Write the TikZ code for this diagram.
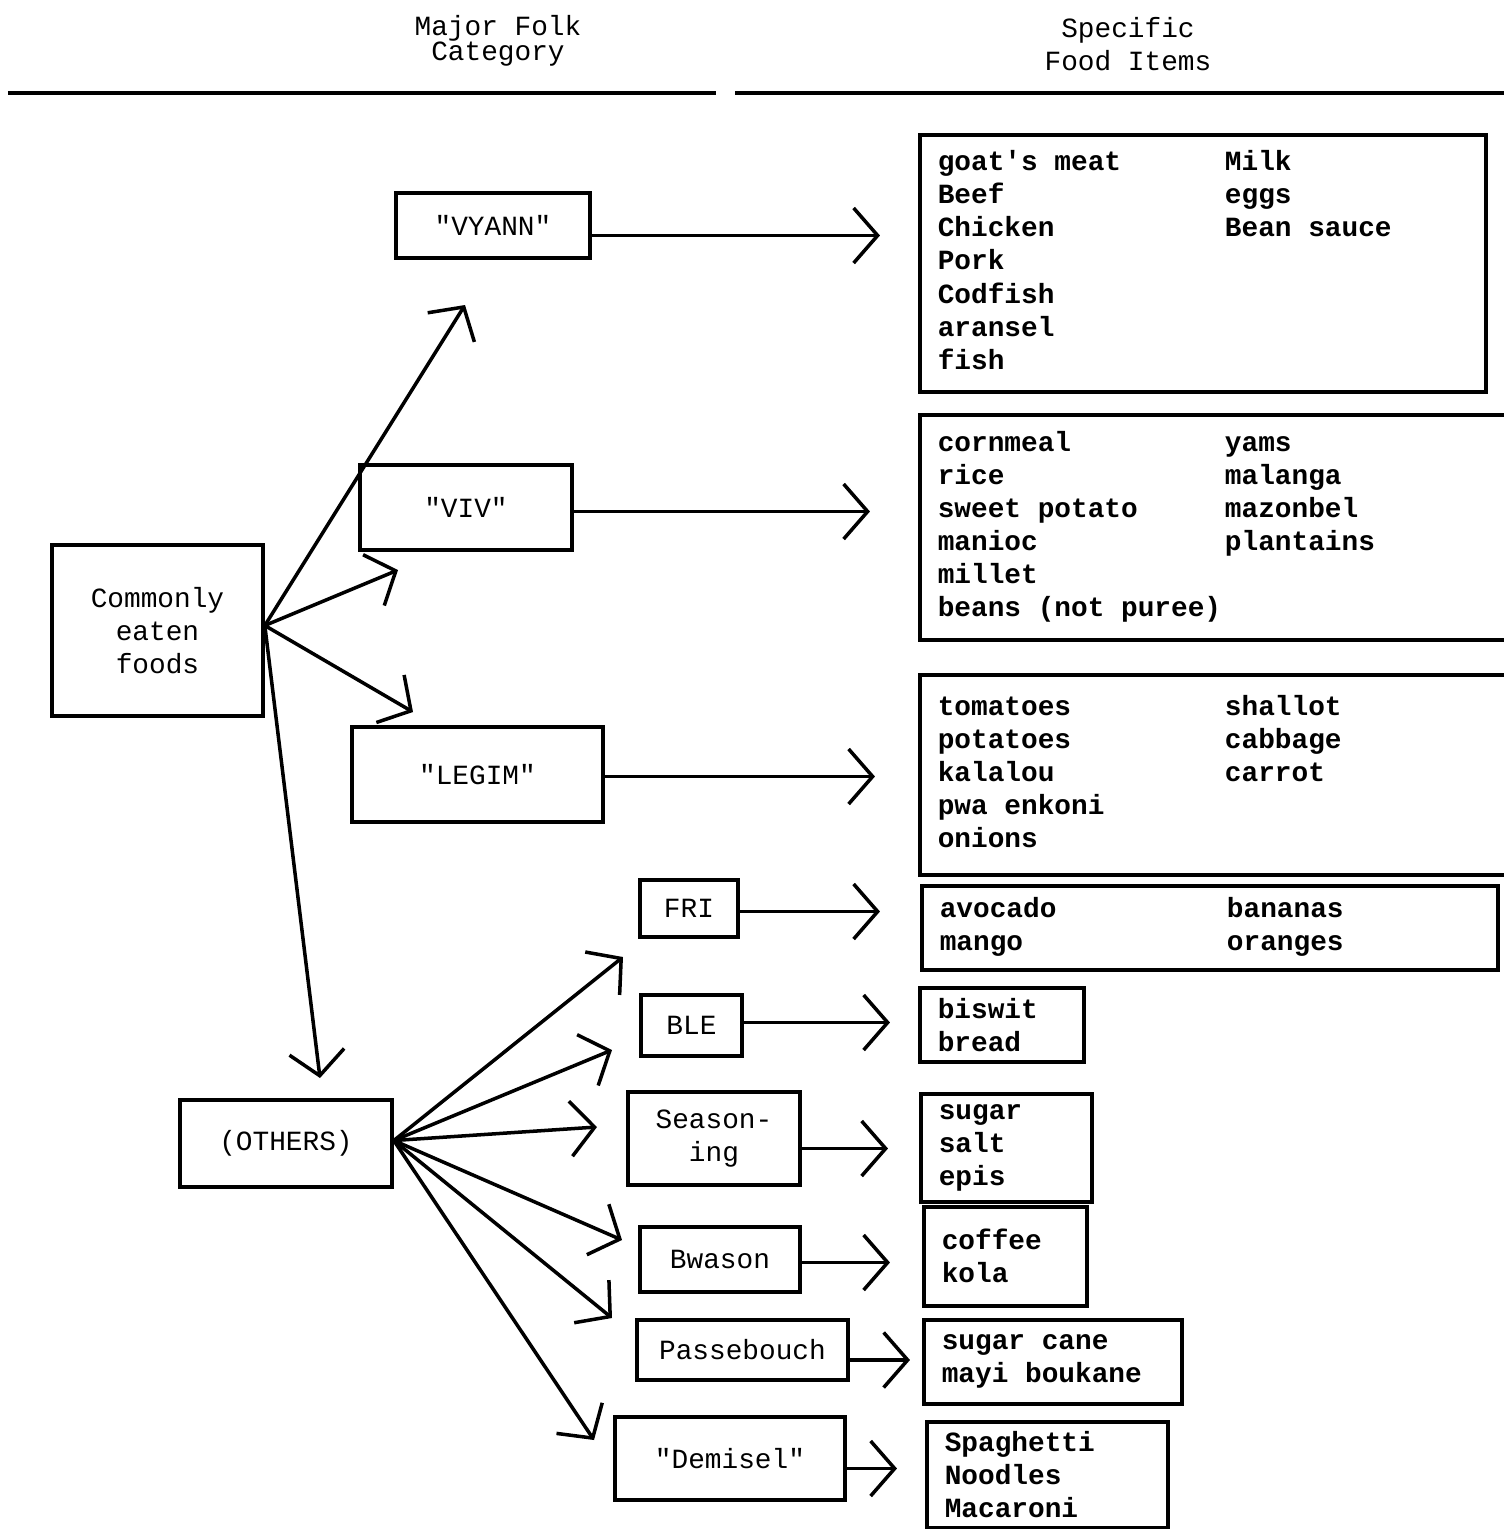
\documentclass[tikz,border=0pt]{standalone}
\usepackage{fontspec}
\setmonofont{Liberation Mono}
\usetikzlibrary{arrows.meta}
\setlength{\parindent}{0pt}

\newcommand{\typew}{\ttfamily\fontsize{7.9}{9.4}\selectfont}
\newcommand{\itemfont}{\ttfamily\bfseries\fontsize{7.9}{9.4}\selectfont}

\tikzset{
  cat/.style={draw, line width=1pt, font=\typew, align=center, inner sep=0pt},
  items/.style={draw, line width=1pt, font=\itemfont, anchor=north west, inner xsep=0.18cm, inner ysep=0pt,
    execute at begin node={\spaceskip=0.6em\relax}},
  arr/.style={line width=1pt, -{Straight Barb[length=0.24cm, width=0.55cm, line width=1pt]}},
}

\begin{document}
\begin{tikzpicture}[x=0.01cm, y=-0.01cm]
  \useasboundingbox (0,0) rectangle (1504,1529);
  \clip (0,0) rectangle (1504,1529);

  % column heads
  \node[font=\typew, align=center] (headcat) at (498,41) {Major Folk\\[-2.3pt]Category};
  \node[font=\typew, align=center] (headitems) at (1128,44) {Specific\\Food Items};
  \draw[line width=1pt] (8,93) -- (716,93);
  \draw[line width=1pt] (735,93) -- (1504,93);

  % folk categories
  \node[cat, minimum width=2.11cm, minimum height=1.71cm] (common) at (157.5,630.5) {Commonly\\eaten\\foods};
  \node[cat, minimum width=1.94cm, minimum height=0.65cm] (vyann) at (493,225.5) {"VYANN"};
  \node[cat, minimum width=2.12cm, minimum height=0.85cm] (viv) at (466,507.5) {"VIV"};
  \node[cat, minimum width=2.51cm, minimum height=0.95cm] (legim) at (477.5,774.5) {"LEGIM"};
  \node[cat, minimum width=2.12cm, minimum height=0.87cm] (others) at (286,1143.5) {(OTHERS)};
  \node[cat, minimum width=0.98cm, minimum height=0.57cm] (fri) at (689,908.5) {FRI};
  \node[cat, minimum width=1.01cm, minimum height=0.61cm] (ble) at (691.5,1025.5) {BLE};
  \node[cat, minimum width=1.72cm, minimum height=0.93cm] (season) at (714,1138.5) {Season-\\ing};
  \node[cat, minimum width=1.60cm, minimum height=0.65cm] (bwason) at (720,1259.5) {Bwason};
  \node[cat, minimum width=2.11cm, minimum height=0.60cm] (passe) at (742.5,1350) {Passebouch};
  \node[cat, minimum width=2.30cm, minimum height=0.83cm] (demisel) at (730,1458.5) {"Demisel"};

  % food items
  \node[items, text width=5.30cm, minimum height=2.57cm] (vyann-items) at (918,133) {%
    \begin{tabular}{@{}p{2.87cm}@{}l@{}}
      goat's meat & Milk\\
      Beef & eggs\\
      Chicken & Bean sauce\\
      Pork & \\
      Codfish & \\
      aransel & \\
      fish &
    \end{tabular}};
  \node[items, text width=5.66cm, minimum height=2.25cm] (viv-items) at (918,413) {%
    \begin{tabular}{@{}p{2.87cm}@{}l@{}}
      cornmeal & yams\\
      rice & malanga\\
      sweet potato & mazonbel\\
      manioc & plantains\\
      millet & \\
      \multicolumn{2}{@{}l@{}}{beans (not puree)}
    \end{tabular}};
  \node[items, text width=5.66cm, minimum height=2.00cm] (legim-items) at (918,673) {%
    \begin{tabular}{@{}p{2.87cm}@{}l@{}}
      tomatoes & shallot\\
      potatoes & cabbage\\
      kalalou & carrot\\
      pwa enkoni & \\
      onions &
    \end{tabular}};
  \node[items, text width=5.40cm, minimum height=0.84cm] (fri-items) at (920,884) {%
    \begin{tabular}{@{}p{2.87cm}@{}l@{}}
      avocado & bananas\\
      mango & oranges
    \end{tabular}};
  \node[items, text width=1.28cm, minimum height=0.74cm] (ble-items) at (918,986) {biswit\\bread};
  \node[items, text width=1.35cm, minimum height=1.08cm] (season-items) at (919,1092) {sugar\\salt\\epis};
  \node[items, text width=1.27cm, minimum height=0.99cm] (bwason-items) at (922,1205) {coffee\\kola};
  \node[items, text width=2.22cm, minimum height=0.84cm] (passe-items) at (922,1318) {sugar cane\\mayi boukane};
  \node[items, text width=2.05cm, minimum height=1.06cm] (demisel-items) at (925,1420) {Spaghetti\\Noodles\\Macaroni};

  % free ends of the fanned arrows
  \coordinate (to-vyann) at (465,305);
  \coordinate (to-viv) at (398,570);
  \coordinate (to-legim) at (413,712);
  \coordinate (to-others) at (320,1078);
  \coordinate (to-fri) at (623,957);
  \coordinate (to-ble) at (612,1050);
  \coordinate (to-season) at (597,1127);
  \coordinate (to-bwason) at (622,1240);
  \coordinate (to-passe) at (612,1318);
  \coordinate (to-demisel) at (594,1440);

  \foreach \b in {vyann, viv, legim, others}
    \draw[arr] (common.east) ++(0,-5) -- (to-\b);
  \foreach \b in {fri, ble, season, bwason, passe, demisel}
    \draw[arr] (others.east) ++(0,-3) -- (to-\b);

  % category -> items
  \foreach \a/\dy/\g in {vyann/10/0.38, viv/4/0.48, legim/2/0.43, fri/3/0.40, ble/-3/0.28, season/10/0.31, bwason/3/0.32, passe/10/0.12, demisel/10/0.28}
    \draw[arr, shorten >=\g cm] (\a.east) ++(0,\dy) coordinate (s) -- (s -| \a-items.west);
\end{tikzpicture}
\end{document}
